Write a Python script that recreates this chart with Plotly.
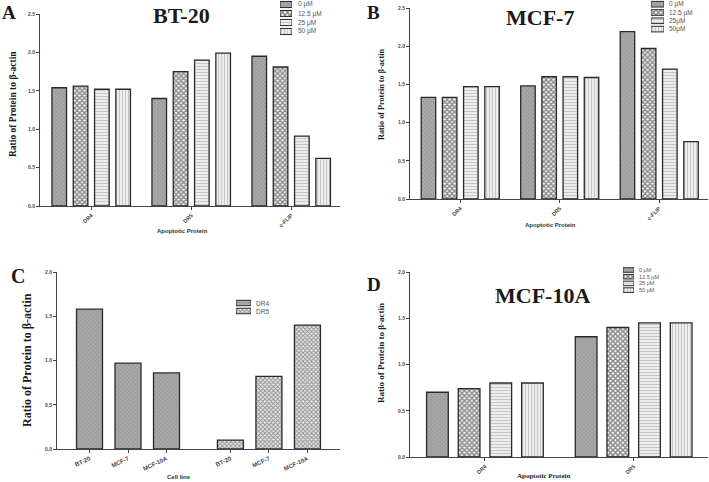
import plotly.graph_objects as go

W, H = 709, 482

# ---------------- data ----------------
conc_labels_a = ["0 μM", "12.5 μM", "25 μM", "50 μM"]
conc_labels_b = ["0 μM", "12.5 μM", "25μM", "50μM"]
conc_labels_d = ["0 μM", "12.5 μM", "25 μM", "50 μM"]
proteins_abc = ["DR4", "DR5", "c-FLIP"]
proteins_d = ["DR4", "DR5"]

# Panel A: BT-20
bt20_0 = [1.54, 1.40, 1.95]
bt20_12 = [1.56, 1.75, 1.81]
bt20_25 = [1.52, 1.90, 0.91]
bt20_50 = [1.52, 1.99, 0.62]

# Panel B: MCF-7
mcf7_0 = [1.33, 1.48, 2.19]
mcf7_12 = [1.33, 1.60, 1.97]
mcf7_25 = [1.47, 1.60, 1.70]
mcf7_50 = [1.47, 1.59, 0.75]

# Panel C: basal levels per cell line
cell_lines = ["BT-20", "MCF-7", "MCF-10A"]
basal_series = ["DR4", "DR5"]
dr4_basal = [1.58, 0.97, 0.86]
dr5_basal = [0.10, 0.82, 1.40]

# Panel D: MCF-10A
mcf10a_0 = [0.70, 1.30]
mcf10a_12 = [0.74, 1.40]
mcf10a_25 = [0.80, 1.45]
mcf10a_50 = [0.80, 1.45]

y_title = "Ratio of Protein to β-actin"

# ---------------- styles ----------------
EDGE = dict(color="#2a2a2a", width=1.3)
STYLES = [
    dict(color="#9c9c9c", pattern=dict(shape="x", fgcolor="#707070", bgcolor="#a9a9a9", size=3, solidity=0.3)),
    dict(color="#ffffff", pattern=dict(shape="x", fgcolor="#111111", bgcolor="#ffffff", size=3.5, solidity=0.68)),
    dict(color="#ffffff", pattern=dict(shape="-", fgcolor="#9a9a9a", bgcolor="#f4f4f4", size=3, solidity=0.45)),
    dict(color="#ffffff", pattern=dict(shape="|", fgcolor="#9a9a9a", bgcolor="#f4f4f4", size=3, solidity=0.45)),
]
DR5_STYLE = dict(color="#ffffff", pattern=dict(shape="x", fgcolor="#3a3a3a", bgcolor="#e6e6e6", size=3, solidity=0.5))

SERIF = "Liberation Serif"
SANS = "Liberation Sans"


def px(x):
    return x / W


def py(y):
    return 1 - y / H


fig = go.Figure()


def add_group(series, cats, xa, ya):
    for vals, st in zip(series, STYLES):
        fig.add_trace(go.Bar(x=cats, y=vals, xaxis=xa, yaxis=ya,
                             marker=dict(color=st["color"], pattern=st["pattern"], line=EDGE),
                             showlegend=False, hoverinfo="skip"))


add_group([bt20_0, bt20_12, bt20_25, bt20_50], proteins_abc, "x", "y")
add_group([mcf7_0, mcf7_12, mcf7_25, mcf7_50], proteins_abc, "x2", "y2")
add_group([mcf10a_0, mcf10a_12, mcf10a_25, mcf10a_50], proteins_d, "x4", "y4")

# Panel C: two blocks of cell lines on a numeric axis
GROUP_SHIFT = 3.66
c_pos_dr4 = [i for i in range(len(cell_lines))]
c_pos_dr5 = [i + GROUP_SHIFT for i in range(len(cell_lines))]
CW = 0.675
fig.add_trace(go.Bar(x=c_pos_dr4, y=dr4_basal, xaxis="x3", yaxis="y3", width=CW, offset=-CW / 2,
                     marker=dict(color=STYLES[0]["color"], pattern=STYLES[0]["pattern"], line=EDGE),
                     showlegend=False, hoverinfo="skip"))
fig.add_trace(go.Bar(x=c_pos_dr5, y=dr5_basal, xaxis="x3", yaxis="y3", width=CW, offset=-CW / 2,
                     marker=dict(color=DR5_STYLE["color"], pattern=DR5_STYLE["pattern"], line=EDGE),
                     showlegend=False, hoverinfo="skip"))

# ---------------- custom compact legends (mini axes) ----------------
legends = [
    # (axis id, labels, styles, swatch x0, x1, first row y, row step, text x, font size)
    ("5", conc_labels_a, STYLES, 280, 292, 4.5, 9.0, 296, 6.5),
    ("6", conc_labels_b, STYLES, 651, 664, 4.2, 8.3, 667, 6.5),
    ("7", basal_series, [STYLES[0], DR5_STYLE], 236, 251, 303, 8.0, 254, 6.5),
    ("8", conc_labels_d, STYLES, 623, 634, 270, 6.7, 637, 5.5),
]
LEG_W = 0.68
for aid, labels, sts, x0, x1, y0, step, tx, fs in legends:
    n = len(labels)
    for i, (lab, st) in enumerate(zip(labels, sts)):
        fig.add_trace(go.Bar(x=[1], y=[i], orientation="h", xaxis="x" + aid, yaxis="y" + aid,
                             width=LEG_W, offset=-LEG_W / 2, cliponaxis=False,
                             marker=dict(color=st["color"], pattern=st["pattern"], line=dict(color="#2a2a2a", width=1)),
                             showlegend=False, hoverinfo="skip"))
        fig.add_annotation(x=px(tx), y=py(y0 + i * step), xref="paper", yref="paper",
                           text=lab, showarrow=False, xanchor="left", yanchor="middle",
                           font=dict(family=SANS, size=fs, color="#555555"))
    top = y0 - step / 2
    bot = y0 + (n - 0.5) * step
    fig.layout["xaxis" + aid] = dict(domain=[px(x0), px(x1)], range=[0, 1], visible=False,
                                     anchor="y" + aid, fixedrange=True, automargin=False)
    fig.layout["yaxis" + aid] = dict(domain=[py(bot), py(max(top, 0))], range=[n - 0.5, -0.5],
                                     visible=False, anchor="x" + aid, fixedrange=True, automargin=False)

# ---------------- axes ----------------
AX = dict(showline=True, linecolor="#444444", linewidth=1, ticks="outside", ticklen=3,
          tickcolor="#444444", tickwidth=1, showgrid=False, zeroline=False, fixedrange=True,
          automargin=False)
TICKF = dict(family=SANS, size=5, color="#444444", weight="bold")

panels = [
    # axis suffix, x px range, y px (bottom, top), x range, y range
    ("", (40, 340), (206, 14), [-0.512, 2.488], [0, 2.5]),
    ("2", (410, 708), (199, 8), [-0.505, 2.49], [0, 2.5]),
    ("3", (57, 340), (449, 272), [-0.844, 6.506], [0, 2.0]),
    ("4", (410, 708), (457, 272), [-0.504, 1.5], [0, 2.0]),
]
for sfx, (xl, xr), (yb, yt), xr_, yr_ in panels:
    xa = dict(AX, domain=[px(xl), px(xr)], range=xr_, anchor="y" + sfx,
              tickangle=-45, tickfont=dict(TICKF, size=5.5))
    ya = dict(AX, domain=[py(yb), py(yt)], range=yr_, anchor="x" + sfx,
              dtick=0.5, tickformat=".1f", tickfont=TICKF)
    fig.layout["xaxis" + sfx] = xa
    fig.layout["yaxis" + sfx] = ya

fig.layout.xaxis.update(type="category")
fig.layout.xaxis2.update(type="category")
fig.layout.xaxis4.update(type="category")
fig.layout.xaxis3.update(tickmode="array", tickvals=c_pos_dr4 + c_pos_dr5,
                         ticktext=cell_lines + cell_lines, tickangle=-25,
                         tickfont=dict(TICKF, size=6))

# ---------------- text ----------------
def ann(text, x, y, size, family=SERIF, angle=0, color="#1a1a1a", bold=True):
    fig.add_annotation(x=px(x), y=py(y), xref="paper", yref="paper", text=text,
                       showarrow=False, textangle=angle, xanchor="center", yanchor="middle",
                       font=dict(family=family, size=size, color=color,
                                 weight="bold" if bold else "normal"))

# panel letters
ann("A", 9, 12, 19)
ann("B", 374, 12, 19)
ann("C", 18, 276, 20)
ann("D", 374, 284, 19)

# titles
ann("BT-20", 181, 15, 22)
ann("MCF-7", 540, 18, 22)
ann("MCF-10A", 542, 295, 22)

# y titles
ann(y_title, 13, 104, 9.5, angle=-90)
ann(y_title, 382, 95, 8.2, angle=-90)
ann(y_title, 27, 360, 12, angle=-90)
ann(y_title, 381, 353, 9, angle=-90)

# x titles
ann("Apoptotic Protein", 182, 231, 6, family=SANS, color="#333333")
ann("Apoptotic Protein", 550, 225, 6, family=SANS, color="#333333")
ann("Cell line", 179, 477, 6, family=SANS, color="#333333")
ann("Apoptotic Protein", 543, 476, 7)

fig.update_layout(width=W, height=H, margin=dict(l=0, r=0, t=0, b=0, autoexpand=False),
                  paper_bgcolor="white", plot_bgcolor="white", showlegend=False,
                  barmode="group", bargap=0.148, bargroupgap=0.315)

fig.write_html("out.html", config={"displayModeBar": False},
               post_script="document.body.style.margin='0';document.body.style.overflow='hidden';")
